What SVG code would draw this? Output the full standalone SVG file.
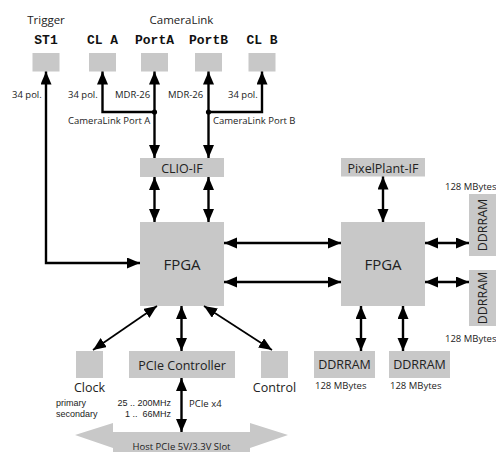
<svg xmlns="http://www.w3.org/2000/svg" width="496" height="452" viewBox="0 0 496 452">
<defs>
<marker id="ah" markerUnits="userSpaceOnUse" markerWidth="14" markerHeight="12" refX="13" refY="5.5" orient="auto-start-reverse">
<path d="M0,0 L13,5.5 L0,11 z" fill="#000"/>
</marker>
<style>
.box{fill:#c8c8c8}
.ln{fill:none;stroke:#000;stroke-width:2.4}
.ln2{fill:none;stroke:#000;stroke-width:1.7}
.a2{marker-start:url(#ah);marker-end:url(#ah)}
.a1{marker-start:url(#ah)}
text{font-family:"Open Sans","Liberation Sans",sans-serif;fill:#222}
.s{font-size:9.5px}
.t{font-family:"Liberation Sans",Arial,sans-serif;font-size:9px}
.m{font-size:11.5px}
.l{font-size:12.5px}
.xl{font-size:15px}
.mono{font-family:"Liberation Mono","Courier New",monospace;font-weight:bold;font-size:13px;fill:#111}
.c{text-anchor:middle}
.e{text-anchor:end}
</style>
</defs>

<g id="labels-top">
<text class="m c" x="46" y="24">Trigger</text>
<text class="m c" x="181.5" y="24">CameraLink</text>
</g>

<g id="ST1"><rect class="box" x="32.5" y="53" width="27" height="18.5"/><text class="mono c" x="46" y="43.5">ST1</text></g>
<g id="CLA"><rect class="box" x="89" y="53" width="27" height="18.5"/><text class="mono c" x="102.5" y="43.5" style="white-space:pre">CL A</text></g>
<g id="PortA"><rect class="box" x="141" y="53" width="27" height="18.5"/><text class="mono c" x="154.5" y="43.5">PortA</text></g>
<g id="PortB"><rect class="box" x="195" y="53" width="27" height="18.5"/><text class="mono c" x="208.5" y="43.5">PortB</text></g>
<g id="CLB"><rect class="box" x="248.5" y="53" width="27" height="18.5"/><text class="mono c" x="262" y="43.5" style="white-space:pre">CL B</text></g>

<g id="CLIO-IF"><rect class="box" x="140" y="158" width="84" height="19"/><text class="l c" x="182" y="172.5">CLIO-IF</text></g>
<g id="PixelPlant-IF"><rect class="box" x="341" y="158" width="84" height="18.5"/><text class="l c" x="383" y="172.5">PixelPlant-IF</text></g>
<g id="FPGA1"><rect class="box" x="140" y="222" width="84" height="84"/><text class="xl c" x="182" y="269.5">FPGA</text></g>
<g id="FPGA2"><rect class="box" x="341" y="222" width="84" height="84"/><text class="xl c" x="383" y="269.5">FPGA</text></g>

<g id="DDR-R1"><rect class="box" x="469" y="194" width="27" height="62"/><text class="l c" transform="translate(487,225) rotate(-90)">DDRRAM</text><text class="s" x="445" y="190">128 MBytes</text></g>
<g id="DDR-R2"><rect class="box" x="469" y="270" width="27" height="56"/><text class="l c" transform="translate(487,298) rotate(-90)">DDRRAM</text><text class="s" x="445" y="342">128 MBytes</text></g>
<g id="DDR-B1"><rect class="box" x="314" y="351" width="61" height="27"/><text class="l c" x="344.5" y="369">DDRRAM</text><text class="s" x="315" y="389">128 MBytes</text></g>
<g id="DDR-B2"><rect class="box" x="389" y="351" width="61" height="27"/><text class="l c" x="419.5" y="369">DDRRAM</text><text class="s" x="390" y="389">128 MBytes</text></g>

<g id="Clock"><rect class="box" x="76" y="351" width="27" height="27"/><text class="l c" x="89.5" y="391.5">Clock</text></g>
<g id="Control"><rect class="box" x="261" y="351" width="27" height="27"/><text class="l c" x="274.5" y="391.5">Control</text></g>
<g id="PCIe"><rect class="box" x="129" y="351" width="106" height="27"/><text class="l c" x="182" y="370">PCIe Controller</text></g>

<g id="Host">
<polygon class="box" points="75,435 113,423 113,432 250,432 250,423 288,435 250,448 250,452 113,452 113,448"/>
<text class="s c" x="181.5" y="449.5">Host PCIe 5V/3.3V Slot</text>
</g>

<g id="connectors">
<path class="ln a2" d="M46,71.5 L46,263 L140,263"/>
<path class="ln a2" d="M154.5,71.5 L154.5,158"/>
<path class="ln a1" d="M102.5,71.5 L102.5,112 L154.5,112"/>
<circle cx="154.5" cy="112" r="2.6"/>
<path class="ln a2" d="M208.5,71.5 L208.5,158"/>
<path class="ln a1" d="M262,71.5 L262,112 L208.5,112"/>
<circle cx="208.5" cy="112" r="2.6"/>
<path class="ln a2" d="M154.5,177 L154.5,222"/>
<path class="ln a2" d="M208.5,177 L208.5,222"/>
<path class="ln a2" d="M224,243 L341,243"/>
<path class="ln a2" d="M224,282 L341,282"/>
<path class="ln a2" d="M383,176.5 L383,222"/>
<path class="ln a2" d="M425,243 L469,243"/>
<path class="ln a2" d="M425,282 L469,282"/>
<path class="ln a2" d="M361,306 L361,351"/>
<path class="ln a2" d="M403,306 L403,351"/>
<path class="ln2 a2" d="M157,306 L93,350"/>
<path class="ln2 a2" d="M204,306 L272,350"/>
<path class="ln a2" d="M181.5,306 L181.5,351"/>
<path class="ln a2" d="M181.5,378 L181.5,432"/>
</g>

<g id="annotations">
<text class="s" x="12" y="98">34 pol.</text>
<text class="s" x="68" y="98">34 pol.</text>
<text class="s" x="115" y="98">MDR-26</text>
<text class="s" x="168" y="98">MDR-26</text>
<text class="s" x="228" y="98">34 pol.</text>
<text class="s" x="68" y="124">CameraLink Port A</text>
<text class="s" x="213" y="124">CameraLink Port B</text>
<text class="t" x="56" y="406">primary</text>
<text class="t" x="56" y="416.5">secondary</text>
<text class="t e" x="171" y="406">25 .. 200MHz</text>
<text class="t e" x="171" y="416.5" style="white-space:pre">1 ..  66MHz</text>
<text class="s" x="189" y="406.5">PCIe x4</text>
</g>
</svg>
